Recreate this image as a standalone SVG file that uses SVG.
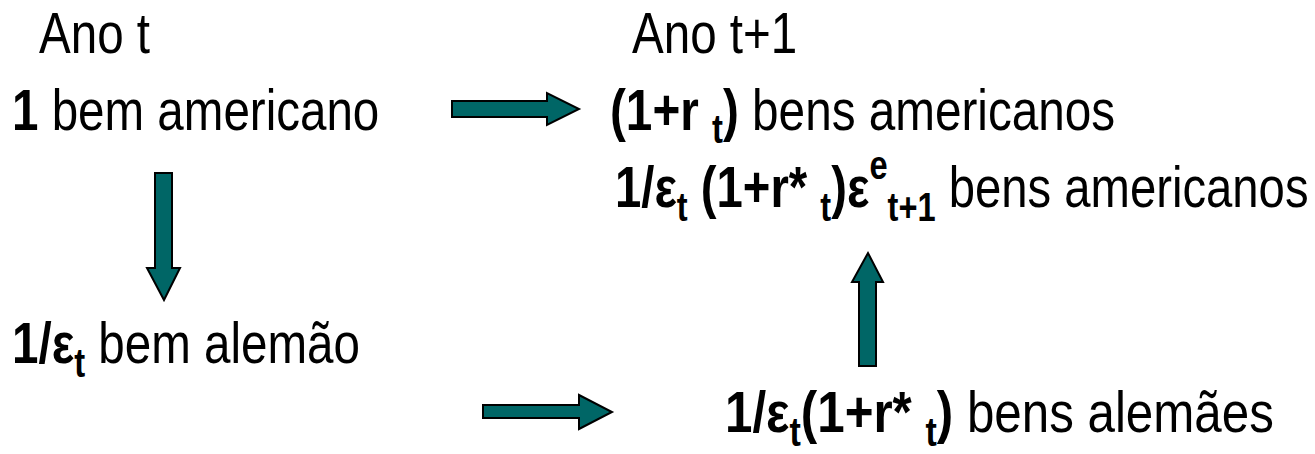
<svg xmlns="http://www.w3.org/2000/svg" width="1315" height="454" viewBox="0 0 1315 454">
<style>
text{font-family:"Liberation Sans",Arial,sans-serif;font-size:58px;fill:#000}
.b{font-weight:bold}
.s{font-size:40px;font-weight:bold}
.arr{fill:#006666;stroke:#000;stroke-width:2;stroke-linejoin:miter}
</style>
<rect width="1315" height="454" fill="#fff"/>
<g id="label-ano-t"><text transform="translate(39,53) scale(0.82,1)">Ano t</text></g>
<g id="label-ano-t1"><text transform="translate(632,53) scale(0.82,1)">Ano t+1</text></g>
<g id="node-us-t"><text transform="translate(12,130) scale(0.82,1)"><tspan class="b">1</tspan> bem americano</text></g>
<g id="node-us-t1"><text transform="translate(610,130) scale(0.822,1)"><tspan class="b">(1+r </tspan><tspan class="s" dy="13">t</tspan><tspan class="b" dy="-13">)</tspan> bens americanos</text></g>
<g id="node-de-to-us"><text transform="translate(615,207) scale(0.815,1)"><tspan class="b">1/ε</tspan><tspan class="s" dy="14">t</tspan><tspan class="b" dy="-14"> (1+r* </tspan><tspan class="s" dy="14">t</tspan><tspan class="b" dy="-14">)ε</tspan><tspan class="s" dy="-28">e</tspan><tspan class="s" dy="42">t+1</tspan><tspan dy="-14"> bens americanos</tspan></text></g>
<g id="node-de-t"><text transform="translate(12,363) scale(0.82,1)"><tspan class="b">1/ε</tspan><tspan class="s" dy="14">t</tspan><tspan dy="-14"> bem alemão</tspan></text></g>
<g id="node-de-t1"><text transform="translate(725,432) scale(0.85,1)"><tspan class="b">1/ε</tspan><tspan class="s" dy="14">t</tspan><tspan class="b" dy="-14">(1+r* </tspan><tspan class="s" dy="14">t</tspan><tspan class="b" dy="-14">)</tspan> bens alemães</text></g>
<g id="connectors">
<polygon class="arr" points="452,101 547,101 547,93 579,109 547,125 547,117 452,117"/>
<polygon class="arr" points="155,173 172,173 172,268 180,268 164,300 147,268 155,268"/>
<polygon class="arr" points="483,405 579,405 579,395 612,412 579,429 579,418 483,418"/>
<polygon class="arr" points="859,366 876,366 876,282 883,282 868,253 852,282 859,282"/>
</g>
</svg>
